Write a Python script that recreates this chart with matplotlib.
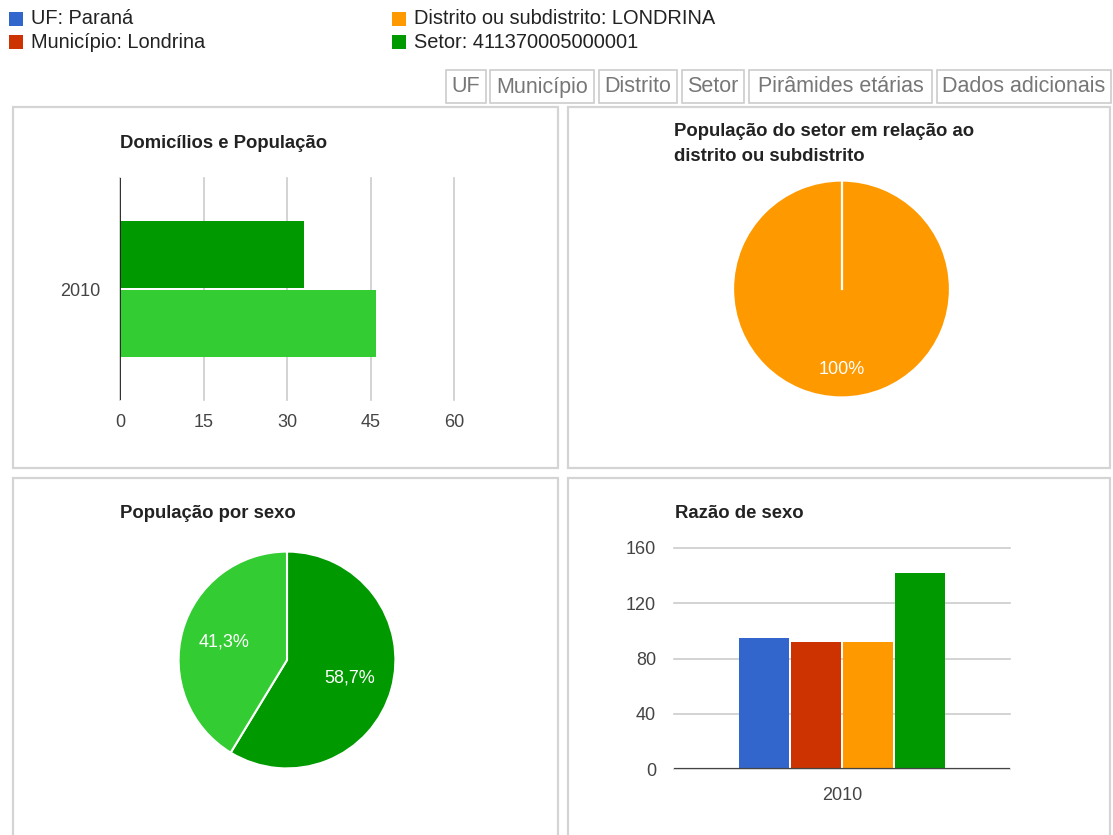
import numpy as np
import matplotlib
matplotlib.use('Agg')
import matplotlib.pyplot as plt
from matplotlib.patches import Rectangle

W, H = 1113, 835

# legenda do topo
legend_labels = ['UF: Paraná', 'Município: Londrina',
                 'Distrito ou subdistrito: LONDRINA', 'Setor: 411370005000001']
legend_colors = ['#3366cc', '#cc3300', '#ff9900', '#009900']

tab_labels = ['UF', 'Município', 'Distrito', 'Setor', 'Pirâmides etárias', 'Dados adicionais']

# Domicílios e População
year_label = '2010'
dom_pop_labels = ['Domicílios', 'População']
dom_pop_values = [33, 46]
dom_pop_colors = ['#009900', '#33cc33']
dom_pop_ticks = [0, 15, 30, 45, 60]

# População do setor em relação ao distrito
setor_share_values = [46]
setor_share_colors = ['#ff9900']

# População por sexo
sexo_labels = ['Homens', 'Mulheres']
sexo_values = [27, 19]
sexo_colors = ['#009900', '#33cc33']

# Razão de sexo
razao_labels = ['UF', 'Município', 'Distrito', 'Setor']
razao_values = [95.2, 91.6, 91.6, 142.1]
razao_colors = legend_colors
razao_ticks = [0, 40, 80, 120, 160]

plt.rcParams['font.family'] = 'Liberation Sans'
TXT = '#222222'
TICK = '#444444'
GRID = '#cccccc'


def fx(x):
    return x / W


def fy(y):
    return 1 - y / H


def px_axes(l, t, r, b):
    return fig.add_axes([fx(l), fy(b), (r - l) / W, (b - t) / H])


def box(l, t, r, b, color, lw, fill=None):
    rect = Rectangle((fx(l), fy(b)), (r - l) / W, (b - t) / H, transform=fig.transFigure,
                     facecolor=fill if fill else 'none', edgecolor=color, linewidth=lw)
    fig.add_artist(rect)


def pct_br(p):
    s = f'{p:.1f}'.rstrip('0').rstrip('.')
    return s.replace('.', ',') + '%'


fig = plt.figure(figsize=(W / 100, H / 100), dpi=100)
fig.patch.set_facecolor('white')

# legenda
leg_x = [9, 9, 392, 392]
leg_y = [19, 42, 19, 42]
for lab, col, x, y in zip(legend_labels, legend_colors, leg_x, leg_y):
    box(x, y - 7, x + 14, y + 7, col, 0, fill=col)
    fig.text(fx(x + 22), fy(y), lab, fontsize=14.4, color=TXT, va='center', ha='left')

# abas
tab_x = [(446, 486), (490, 594), (599, 677), (682, 744), (749, 932), (937, 1111)]
for lab, (l, r) in zip(tab_labels, tab_x):
    box(l, 70, r, 103, '#cccccc', 1.2)
    fig.text(fx((l + r) / 2), fy(87), lab, fontsize=15.5, color='#777777', ha='center', va='center')

# painéis
box(13, 107, 558, 468, '#d4d4d4', 1.6)
box(568, 107, 1110, 468, '#d4d4d4', 1.6)
box(13, 478, 558, 850, '#d4d4d4', 1.6)
box(568, 478, 1110, 850, '#d4d4d4', 1.6)

# ---- Domicílios e População
fig.text(fx(120), fy(143), 'Domicílios e População', fontsize=13.3, fontweight='bold',
         color=TXT, ha='left', va='center')
ax1 = px_axes(120, 178, 454, 400)
offs = [0.31, -0.31]
ax1.barh(offs, dom_pop_values, height=0.6, color=dom_pop_colors, zorder=3)
ax1.set_xlim(0, 60)
ax1.set_ylim(-1, 1)
ax1.set_xticks(dom_pop_ticks)
ax1.set_yticks([0])
ax1.set_yticklabels([year_label])
ax1.grid(axis='x', color=GRID, lw=1.2, zorder=0)
for ln in ax1.get_xgridlines():
    ln.set_clip_on(False)
ax1.axvline(0, color='#222222', lw=1.3, zorder=4)
for s in ax1.spines.values():
    s.set_visible(False)
ax1.tick_params(axis='x', length=0, pad=10, labelsize=13, labelcolor=TICK)
ax1.tick_params(axis='y', length=0, pad=14, labelsize=13, labelcolor=TICK)

# ---- População do setor em relação ao distrito
fig.text(fx(674), fy(144), 'População do setor em relação ao\ndistrito ou subdistrito',
         fontsize=13.3, fontweight='bold', color=TXT, ha='left', va='center', linespacing=1.6)
ax2 = px_axes(732, 179.5, 951, 398.5)
ax2.pie(setor_share_values, colors=setor_share_colors, startangle=90, counterclock=False,
        autopct=pct_br, pctdistance=0.74,
        wedgeprops=dict(edgecolor='white', linewidth=1.5),
        textprops=dict(color='white', fontsize=13))
a0 = np.radians(90)
ax2.plot([0, np.cos(a0)], [0, np.sin(a0)], color='white', lw=1.6)
ax2.set_xlim(-1.01, 1.01)
ax2.set_ylim(-1.01, 1.01)
ax2.set_aspect('equal')

# ---- População por sexo
fig.text(fx(120), fy(514), 'População por sexo', fontsize=13.3, fontweight='bold',
         color=TXT, ha='left', va='center')
ax3 = px_axes(177.5, 550.5, 396.5, 769.5)
ax3.pie(sexo_values, colors=sexo_colors, startangle=90, counterclock=False,
        autopct=pct_br, pctdistance=0.6,
        wedgeprops=dict(edgecolor='white', linewidth=1.5),
        textprops=dict(color='white', fontsize=13))
ax3.set_xlim(-1.01, 1.01)
ax3.set_ylim(-1.01, 1.01)
ax3.set_aspect('equal')

# ---- Razão de sexo
fig.text(fx(675), fy(514), 'Razão de sexo', fontsize=13.3, fontweight='bold',
         color=TXT, ha='left', va='center')
ax4 = px_axes(674, 548, 1010, 769)
xpos = (np.arange(len(razao_values)) - 1.5) * 0.31
ax4.bar(xpos, razao_values, width=0.295, color=razao_colors, zorder=3)
ax4.set_xlim(-1, 1)
ax4.set_ylim(0, 160)
ax4.set_yticks(razao_ticks)
ax4.set_xticks([0])
ax4.set_xticklabels([year_label])
ax4.grid(axis='y', color=GRID, lw=1.2, zorder=0)
for ln in ax4.get_ygridlines():
    ln.set_clip_on(False)
ax4.axhline(0, color='#444444', lw=1.6, zorder=4)
for s in ax4.spines.values():
    s.set_visible(False)
ax4.tick_params(axis='y', length=0, pad=13, labelsize=13, labelcolor=TICK)
ax4.tick_params(axis='x', length=0, pad=13, labelsize=13, labelcolor=TICK)

fig.savefig('out.png', dpi=100)
